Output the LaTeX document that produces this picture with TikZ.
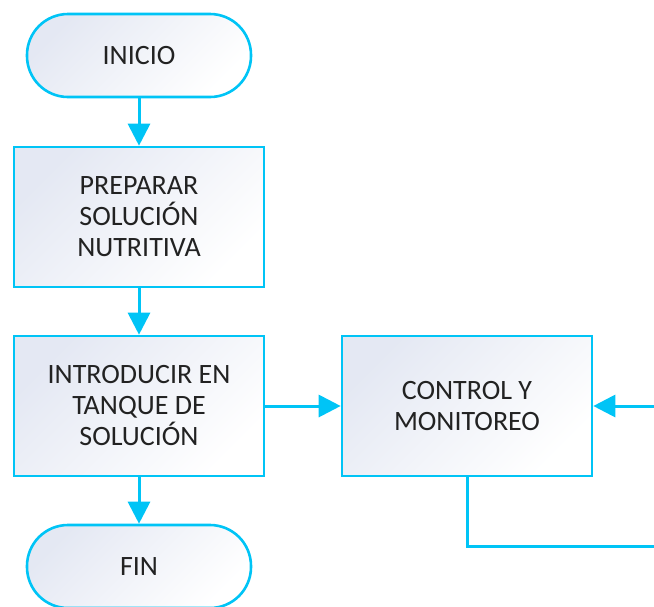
\documentclass[tikz,border=0pt]{standalone}
\usepackage{fontspec}
\setmainfont{Carlito}
\usetikzlibrary{arrows.meta}
\definecolor{flowline}{RGB}{0,196,246}
\definecolor{flowfill}{RGB}{228,232,243}
\definecolor{flowtext}{RGB}{34,34,34}
\tikzset{
  boxbase/.style={draw=flowline, line width=2.6pt, shade, shading=axis,
    top color=flowfill, bottom color=white, shading angle=45,
    text=flowtext, align=center, font=\fontsize{28}{31}\selectfont,
    inner sep=0pt},
  terminal/.style={boxbase, minimum width=224pt, minimum height=83pt, rounded corners=41pt},
  process/.style={boxbase, minimum width=250pt, minimum height=140pt},
  flow/.style={draw=flowline, line width=3pt},
  flowarrow/.style={flow, -{Triangle[width=22pt,length=22pt]}}
}
\begin{document}
\begin{tikzpicture}[x=1pt, y=-1pt]
  \useasboundingbox (0,0) rectangle (654,606);
  \node[terminal] (inicio) at (139,55.5) {INICIO};
  \node[process] (preparar) at (139,217) {PREPARAR\\SOLUCIÓN\\NUTRITIVA};
  \node[process] (introducir) at (139,406) {INTRODUCIR EN\\TANQUE DE\\SOLUCIÓN};
  \node[process] (control) at (467,406) {CONTROL Y\\MONITOREO};
  \node[terminal] (fin) at (139,566.5) {FIN};
  \coordinate (feedin) at (654,406);
  \coordinate (loopcorner) at (467,546);
  \coordinate (loopend) at (654,546);
  \draw[flowarrow] (inicio) -- (preparar);
  \draw[flowarrow] (preparar) -- (introducir);
  \draw[flowarrow] (introducir) -- (control);
  \draw[flowarrow] (introducir) -- (fin);
  \draw[flowarrow] (feedin) -- (control.east);
  \draw[flow] (control.south) -- (loopcorner) -- (loopend);
\end{tikzpicture}
\end{document}
